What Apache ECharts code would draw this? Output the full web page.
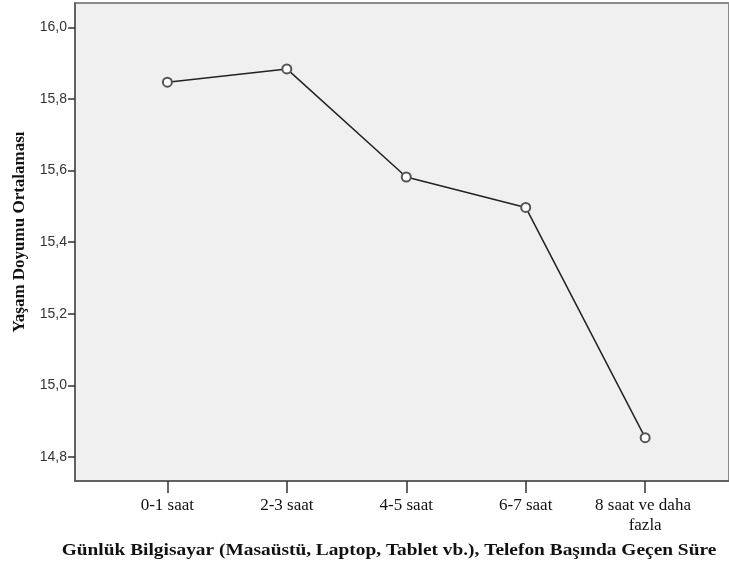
<!DOCTYPE html>
<html>
<head>
<meta charset="utf-8">
<script src="https://cdn.jsdelivr.net/npm/echarts@6/dist/echarts.min.js"></script>
<style>
  html, body { margin: 0; padding: 0; background: #fff; }
  #chart { width: 729px; height: 572px; }
</style>
</head>
<body>
<div id="chart"></div>
<script>
// data
const categories = ['0-1 saat', '2-3 saat', '4-5 saat', '6-7 saat', '8 saat ve daha fazla'];
const means = [15.847, 15.884, 15.582, 15.497, 14.854];
const yTicks = [14.8, 15.0, 15.2, 15.4, 15.6, 15.8, 16.0];
const xTicks = [1, 2, 3, 4, 5];

const serif = '"Liberation Serif", "DejaVu Serif", serif';
const sans = '"Liberation Sans", Arial, sans-serif';

const chart = echarts.init(document.getElementById('chart'));
chart.setOption({
  animation: false,
  grid: {
    left: 75, right: -1, top: 3, bottom: 91,
    show: true,
    backgroundColor: '#f0f0f0',
    borderColor: '#8a8a8a',
    borderWidth: 2
  },
  xAxis: {
    type: 'value',
    min: 0.2266,
    max: 5.702,
    splitLine: { show: false },
    axisLine: { show: true, lineStyle: { color: '#555', width: 1.5 } },
    axisTick: {
      show: true, length: 12, customValues: xTicks,
      lineStyle: { color: '#333', width: 1.5 }
    },
    axisLabel: {
      customValues: xTicks,
      hideOverlap: false,
      margin: 15,
      color: '#111',
      fontFamily: serif,
      fontSize: 17,
      lineHeight: 20,
      width: 110,
      overflow: 'break',
      formatter: v => categories[Math.round(v) - 1] || ''
    }
  },
  yAxis: {
    type: 'value',
    min: 14.733,
    max: 16.068,
    splitLine: { show: false },
    axisLine: { show: true, lineStyle: { color: '#555', width: 1.5 } },
    axisTick: {
      show: true, length: 7, customValues: yTicks,
      lineStyle: { color: '#333', width: 1.5 }
    },
    axisLabel: {
      customValues: yTicks,
      margin: 8,
      color: '#333',
      fontFamily: sans,
      fontSize: 14,
      formatter: v => v.toFixed(1).replace('.', ',')
    }
  },
  graphic: [
    {
      type: 'text',
      x: 389, y: 551,
      scaleX: 1.14,
      style: {
        text: 'Günlük Bilgisayar (Masaüstü, Laptop, Tablet vb.), Telefon Başında Geçen Süre',
        font: 'bold 17px ' + serif,
        fill: '#111',
        align: 'center',
        verticalAlign: 'middle'
      }
    },
    {
      type: 'text',
      x: 20, y: 232,
      rotation: Math.PI / 2,
      style: {
        text: 'Yaşam Doyumu Ortalaması',
        font: 'bold 17px ' + serif,
        fill: '#111',
        align: 'center',
        verticalAlign: 'middle'
      }
    }
  ],
  series: [{
    type: 'line',
    data: means.map((v, i) => [xTicks[i], v]),
    symbol: 'emptyCircle',
    symbolSize: 9,
    lineStyle: { color: '#222', width: 1.5 },
    itemStyle: { color: '#555', borderColor: '#555', borderWidth: 1.2 }
  }]
});
window.addEventListener('resize', function () {
  chart.resize();
});
</script>
</body>
</html>
